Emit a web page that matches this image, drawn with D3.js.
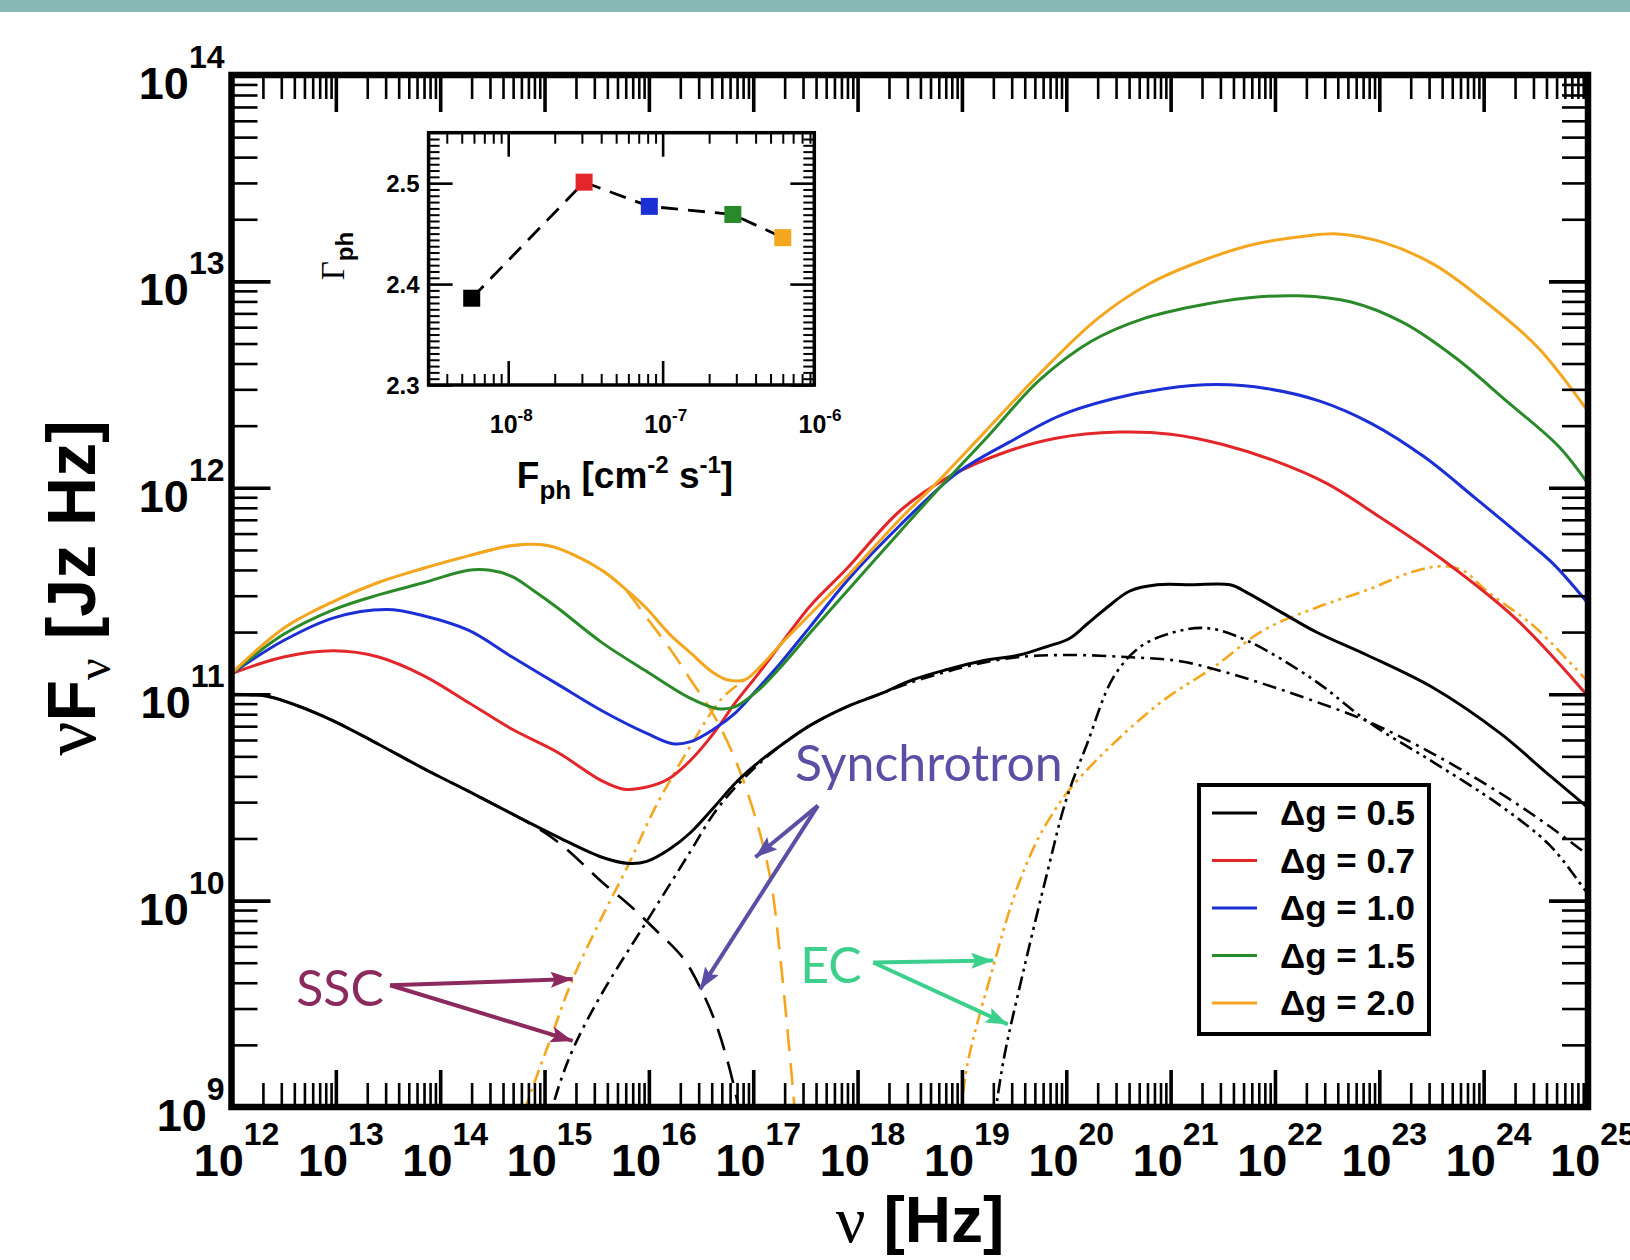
<!DOCTYPE html>
<html>
<head>
<meta charset="utf-8">
<script src="https://cdn.jsdelivr.net/npm/d3@7"></script>
<style>
    body { margin: 0; background: #ffffff; }
    svg { display: block; }
</style>
</head>
<body>
<div id="chart"></div>
<script>
// Spectra are kept as [log10(nu / Hz), log10(nuFnu)] pairs.

// total emission, one per delta-g
var totalDg05 = [[12.0,11.0],[12.34,10.99],[12.6,10.95],[12.98,10.87],[13.4,10.76],[13.84,10.64],[14.27,10.53],[14.69,10.42],[15.12,10.31],[15.55,10.21],[15.81,10.18],[15.98,10.19],[16.2,10.25],[16.4,10.33],[16.62,10.45],[16.83,10.57],[17.05,10.67],[17.26,10.75],[17.55,10.85],[17.9,10.94],[18.21,11.0],[18.53,11.07],[18.86,11.12],[19.18,11.16],[19.55,11.19],[19.81,11.23],[20.03,11.27],[20.2,11.34],[20.39,11.42],[20.61,11.5],[20.87,11.53],[21.2,11.53],[21.57,11.53],[21.74,11.49],[22.05,11.4],[22.4,11.3],[22.88,11.19],[23.52,11.03],[24.16,10.81],[24.6,10.62],[25.0,10.45]];
var totalDg07 = [[12.0,11.1],[12.5,11.18],[12.98,11.21],[13.41,11.18],[13.84,11.09],[14.27,10.96],[14.69,10.83],[15.12,10.72],[15.55,10.58],[15.76,10.54],[15.98,10.55],[16.19,10.59],[16.4,10.68],[16.62,10.81],[16.83,10.96],[17.05,11.1],[17.26,11.24],[17.55,11.43],[17.9,11.61],[18.41,11.89],[18.9,12.06],[19.4,12.17],[19.9,12.24],[20.5,12.27],[21.0,12.26],[21.5,12.21],[22.0,12.13],[22.5,12.02],[23.0,11.86],[23.61,11.65],[24.32,11.36],[25.0,10.99]];
var totalDg10 = [[12.0,11.1],[12.5,11.26],[12.98,11.37],[13.49,11.41],[13.84,11.38],[14.27,11.31],[14.69,11.18],[15.12,11.05],[15.55,10.92],[15.98,10.81],[16.23,10.76],[16.4,10.77],[16.62,10.83],[16.83,10.91],[17.05,11.03],[17.26,11.15],[17.55,11.33],[17.9,11.55],[18.41,11.82],[18.95,12.07],[19.45,12.22],[19.94,12.35],[20.44,12.43],[20.94,12.48],[21.44,12.5],[21.93,12.48],[22.43,12.42],[22.93,12.31],[23.43,12.15],[23.92,11.95],[24.42,11.74],[24.67,11.63],[25.0,11.44]];
var totalDg15 = [[12.0,11.1],[12.5,11.29],[12.98,11.41],[13.4,11.48],[13.84,11.54],[14.27,11.6],[14.48,11.6],[14.69,11.57],[14.9,11.5],[15.12,11.42],[15.55,11.25],[15.98,11.11],[16.4,10.98],[16.66,10.93],[16.83,10.94],[17.05,11.02],[17.26,11.13],[17.55,11.3],[17.9,11.5],[18.41,11.79],[18.75,11.98],[19.25,12.25],[19.74,12.52],[20.24,12.71],[20.74,12.82],[21.23,12.88],[21.73,12.92],[22.23,12.93],[22.73,12.9],[23.23,12.8],[23.73,12.63],[24.22,12.42],[24.72,12.2],[25.0,12.02]];
var totalDg20 = [[12.0,11.1],[12.5,11.32],[12.98,11.45],[13.4,11.54],[13.84,11.61],[14.27,11.67],[14.69,11.72],[15.03,11.72],[15.3,11.67],[15.55,11.6],[15.75,11.52],[15.97,11.42],[16.2,11.29],[16.4,11.2],[16.6,11.11],[16.75,11.07],[16.92,11.07],[17.08,11.14],[17.26,11.24],[17.55,11.39],[17.9,11.57],[18.41,11.85],[18.75,12.02],[19.2,12.26],[19.74,12.55],[20.3,12.82],[20.8,12.99],[21.3,13.1],[21.8,13.18],[22.3,13.22],[22.6,13.23],[23.03,13.19],[23.53,13.08],[24.02,12.9],[24.52,12.68],[25.0,12.37]];

// components for delta-g = 0.5 (black) and 2.0 (orange)
var syncDg05 = [[12.0,11.0],[12.34,10.99],[12.6,10.95],[12.98,10.87],[13.4,10.76],[13.84,10.64],[14.27,10.53],[14.69,10.42],[15.0,10.33],[15.21,10.25],[15.55,10.09],[15.81,9.98],[16.06,9.86],[16.33,9.72],[16.5,9.57],[16.63,9.42],[16.75,9.23],[16.86,9.0],[16.92,8.85]];
var sscDg05 = [[15.02,8.9],[15.15,9.12],[15.29,9.3],[15.55,9.55],[15.98,9.9],[16.4,10.24],[16.62,10.42],[16.83,10.55],[17.05,10.66],[17.26,10.75],[17.55,10.85],[17.9,10.94],[18.21,11.0],[18.53,11.06],[18.86,11.11],[19.18,11.15],[19.55,11.18],[20.0,11.19],[20.58,11.18],[21.09,11.16],[21.5,11.11],[21.89,11.05],[22.3,10.98],[22.88,10.87],[23.52,10.71],[24.16,10.52],[24.63,10.36],[25.0,10.22]];
var ecDg05 = [[19.3,8.9],[19.4,9.23],[19.59,9.66],[19.81,10.12],[20.0,10.49],[20.2,10.76],[20.45,11.08],[20.71,11.23],[21.03,11.3],[21.35,11.32],[21.73,11.26],[22.37,11.07],[22.91,10.86],[23.52,10.67],[24.16,10.46],[24.63,10.27],[24.9,10.1],[25.0,10.03]];
var syncDg20 = [[12.0,11.1],[12.5,11.32],[12.98,11.45],[13.4,11.54],[13.84,11.61],[14.27,11.67],[14.69,11.72],[15.03,11.72],[15.3,11.67],[15.55,11.6],[15.75,11.52],[15.98,11.37],[16.23,11.2],[16.4,11.07],[16.62,10.9],[16.83,10.68],[17.04,10.37],[17.17,10.09],[17.26,9.72],[17.34,9.31],[17.39,9.03],[17.42,8.85]];
var sscDg20 = [[14.72,8.85],[14.84,9.03],[15.05,9.32],[15.27,9.62],[15.55,9.92],[15.81,10.18],[16.06,10.45],[16.4,10.75],[16.7,10.98],[16.92,11.07]];
var ecDg20 = [[18.98,8.9],[19.05,9.2],[19.3,9.68],[19.5,10.02],[19.7,10.27],[19.88,10.43],[20.05,10.55],[20.45,10.76],[20.93,10.97],[21.41,11.13],[21.89,11.31],[22.4,11.42],[22.91,11.51],[23.3,11.59],[23.6,11.62],[23.8,11.6],[24.03,11.5],[24.48,11.33],[24.89,11.12],[25.0,11.06]];

var legendLabels = ["\u0394g = 0.5", "\u0394g = 0.7", "\u0394g = 1.0", "\u0394g = 1.5", "\u0394g = 2.0"];
var seriesColours = ["#000000", "#e3262a", "#1c2fd5", "#2a8a2a", "#f4a61f"];

// axis decades (exponents)
var xDecades = d3.range(12, 26);
var yDecades = d3.range(9, 15);

// inset: photon index against photon flux
var insetFlux = [5.8e-9, 3.1e-8, 8.2e-8, 2.85e-7, 6.0e-7];
var insetGamma = [2.386, 2.501, 2.477, 2.469, 2.446];
var insetYTicks = [2.3, 2.4, 2.5];
var insetXDecades = [-8, -7, -6];

// annotation labels and arrow tips, in data space
var annotations = [
    {text: "Synchrotron", colour: "#5a4fa4", label: [17.40, 10.58], from: [17.62, 10.46], to: [[17.02, 10.21], [16.49, 9.57]]},
    {text: "SSC", colour: "#8c2a5e", label: [12.62, 9.49], from: [13.52, 9.59], to: [[15.27, 9.62], [15.27, 9.32]]},
    {text: "EC", colour: "#3dd08d", label: [17.45, 9.60], from: [18.15, 9.70], to: [[19.30, 9.71], [19.44, 9.40]]}
];

var sans = "'Liberation Sans', Arial, Helvetica, sans-serif";
var serif = "'Liberation Serif', 'DejaVu Serif', serif";
var gill = "Lato, 'Open Sans', sans-serif";

var margin = {top: 75, right: 42, bottom: 153, left: 231.5};
var width = 1630 - margin.left - margin.right;
var height = 1260 - margin.top - margin.bottom;

var svg = d3.select("#chart").append("svg")
    .attr("width", 1630)
    .attr("height", 1260);

// slide band on top
svg.append("rect").attr("width", 1630).attr("height", 12).attr("fill", "#88b8b5");

var xScale = d3.scaleLog().domain([1e12, 1e25]).range([0, width]);
var yScale = d3.scaleLog().domain([1e9, 1e14]).range([height, 0]);

var plot = svg.append("g")
    .attr("transform", "translate(" + margin.left + "," + margin.top + ")");

plot.append("clipPath").attr("id", "plotClip")
    .append("rect").attr("width", width).attr("height", height);

var line = d3.line()
    .x(function (d) { return xScale(Math.pow(10, d[0])); })
    .y(function (d) { return yScale(Math.pow(10, d[1])); })
    .curve(d3.curveCatmullRom.alpha(0.5));

var curves = plot.append("g").attr("clip-path", "url(#plotClip)");

// emission components first, totals drawn over them
var components = [
    {data: sscDg20, colour: seriesColours[4], dash: "14,6,3,6"},
    {data: syncDg20, colour: seriesColours[4], dash: "22,12"},
    {data: ecDg20, colour: seriesColours[4], dash: "14,5,3,5,3,5"},
    {data: syncDg05, colour: "#000", dash: "22,12"},
    {data: sscDg05, colour: "#000", dash: "14,6,3,6"},
    {data: ecDg05, colour: "#000", dash: "14,5,3,5,3,5"}
];
components.forEach(function (c) {
    curves.append("path")
        .datum(c.data)
        .attr("d", line)
        .attr("fill", "none")
        .attr("stroke", c.colour)
        .attr("stroke-width", 2.6)
        .attr("stroke-dasharray", c.dash);
});

[totalDg05, totalDg07, totalDg10, totalDg15, totalDg20].forEach(function (s, i) {
    curves.append("path")
        .datum(s)
        .attr("d", line)
        .attr("fill", "none")
        .attr("stroke", seriesColours[i])
        .attr("stroke-width", 3);
});

/**
 * Ticks on all four sides, pointing inwards.
 */
function drawTicks(g, axisFn, scale, values, size, strokeWidth, transform) {
    var a = g.append("g")
        .attr("transform", transform)
        .call(axisFn(scale).tickValues(values).tickSize(-size).tickFormat(""));
    a.select(".domain").remove();
    a.selectAll("text").remove();
    a.selectAll("line").attr("stroke", "#000").attr("stroke-width", strokeWidth);
}

function minorValues(decades, domain) {
    var out = [];
    decades.forEach(function (k) {
        d3.range(2, 10).forEach(function (m) {
            var v = m * Math.pow(10, k);
            if (v > domain[0] && v < domain[1]) out.push(v);
        });
    });
    return out;
}

var xMajor = xDecades.map(function (k) { return Math.pow(10, k); });
var yMajor = yDecades.map(function (k) { return Math.pow(10, k); });
var xMinor = minorValues(xDecades, xScale.domain());
var yMinor = minorValues(yDecades, yScale.domain());

drawTicks(plot, d3.axisBottom, xScale, xMinor, 24, 2.6, "translate(0," + height + ")");
drawTicks(plot, d3.axisBottom, xScale, xMajor, 37, 3.6, "translate(0," + height + ")");
drawTicks(plot, d3.axisTop, xScale, xMinor, 24, 2.6, "translate(0,0)");
drawTicks(plot, d3.axisTop, xScale, xMajor, 37, 3.6, "translate(0,0)");
drawTicks(plot, d3.axisLeft, yScale, yMinor, 26, 2.6, "translate(0,0)");
drawTicks(plot, d3.axisLeft, yScale, yMajor, 39, 3.6, "translate(0,0)");
drawTicks(plot, d3.axisRight, yScale, yMinor, 26, 2.6, "translate(" + width + ",0)");
drawTicks(plot, d3.axisRight, yScale, yMajor, 39, 3.6, "translate(" + width + ",0)");

// thick frame
plot.append("rect")
    .attr("width", width).attr("height", height)
    .attr("fill", "none").attr("stroke", "#000").attr("stroke-width", 6.5);

// power-of-ten tick labels with raised exponent
function powerLabel(g, x, y, anchor, exponent, size, supSize, raise) {
    var t = g.append("text")
        .attr("x", x).attr("y", y)
        .attr("text-anchor", anchor)
        .attr("font-family", sans)
        .attr("font-weight", "bold")
        .attr("font-size", size);
    t.append("tspan").text("10");
    t.append("tspan").attr("font-size", supSize).attr("dy", -raise).text(exponent);
}

xDecades.forEach(function (k) {
    powerLabel(plot, xScale(Math.pow(10, k)) + 5, height + 69, "middle", k, 45, 32, 31);
});
yDecades.forEach(function (k) {
    powerLabel(plot, -7, yScale(Math.pow(10, k)) + 24, "end", k, 45, 32, 31);
});

// axis titles
var yTitle = svg.append("text")
    .attr("transform", "translate(95,588) rotate(-90)")
    .attr("text-anchor", "middle")
    .attr("font-family", sans)
    .attr("font-weight", "bold")
    .attr("font-size", 68);
yTitle.append("tspan").attr("font-family", serif).attr("font-weight", "normal").attr("font-size", 76).text("\u03bd");
yTitle.append("tspan").text("F");
yTitle.append("tspan").attr("font-family", serif).attr("font-weight", "normal").attr("font-size", 48).attr("dy", 15).text("\u03bd");
yTitle.append("tspan").attr("dy", -15).text("  [Jz Hz]");

var xTitle = svg.append("text")
    .attr("x", 920).attr("y", 1242)
    .attr("text-anchor", "middle")
    .attr("font-family", sans)
    .attr("font-weight", "bold")
    .attr("font-size", 64);
xTitle.append("tspan").attr("font-family", serif).attr("font-weight", "normal").attr("font-size", 66).text("\u03bd");
xTitle.append("tspan").text(" [Hz]");

/**
 * Annotations with arrows.
 */
var defs = svg.append("defs");
annotations.forEach(function (a, i) {
    defs.append("marker")
        .attr("id", "arrow" + i)
        .attr("markerUnits", "userSpaceOnUse")
        .attr("markerWidth", 24).attr("markerHeight", 18)
        .attr("refX", 22).attr("refY", 8)
        .attr("orient", "auto")
        .append("path")
        .attr("d", "M0,0 L22,8 L0,16 L4,8 Z")
        .attr("fill", a.colour);

    var px = function (p) { return [xScale(Math.pow(10, p[0])), yScale(Math.pow(10, p[1]))]; };
    var start = px(a.from);
    a.to.forEach(function (t) {
        var end = px(t);
        plot.append("line")
            .attr("x1", start[0]).attr("y1", start[1])
            .attr("x2", end[0]).attr("y2", end[1])
            .attr("stroke", a.colour)
            .attr("stroke-width", 4)
            .attr("marker-end", "url(#arrow" + i + ")");
    });
    var lp = px(a.label);
    plot.append("text")
        .attr("x", lp[0]).attr("y", lp[1])
        .attr("font-family", gill)
        .attr("font-size", 50)
        .attr("fill", a.colour)
        .text(a.text);
});

/**
 * Legend box.
 */
var legend = svg.append("g").attr("transform", "translate(1199,785)");
legend.append("rect")
    .attr("width", 230).attr("height", 249)
    .attr("fill", "#fff").attr("stroke", "#000").attr("stroke-width", 4);
legendLabels.forEach(function (label, i) {
    var y = 28 + i * 47.5;
    legend.append("line")
        .attr("x1", 13).attr("x2", 58)
        .attr("y1", y).attr("y2", y)
        .attr("stroke", seriesColours[i]).attr("stroke-width", 3);
    legend.append("text")
        .attr("x", 81).attr("y", y + 12)
        .attr("font-family", sans).attr("font-weight", "bold")
        .attr("font-size", 35)
        .text(label);
});

/**
 * Inset: photon index vs photon flux.
 */
var inset = {left: 428.6, top: 132.7, width: 385.7, height: 252.3};
var insetX = d3.scaleLog().domain([3.05e-9, 9.6e-7]).range([0, inset.width]);
var insetY = d3.scaleLinear().domain([2.3, 2.55]).range([inset.height, 0]);

var ins = svg.append("g").attr("transform", "translate(" + inset.left + "," + inset.top + ")");
ins.append("rect").attr("width", inset.width).attr("height", inset.height).attr("fill", "#fff");

var iMajorX = insetXDecades.map(function (k) { return Math.pow(10, k); })
    .filter(function (v) { return v > insetX.domain()[0] && v < insetX.domain()[1]; });
var iMinorX = minorValues([-9, -8, -7], insetX.domain());
var iMinorY = d3.range(2.3, 2.55, 0.00625).filter(function (v) {
    return insetYTicks.every(function (t) { return Math.abs(t - v) > 1e-6; });
});

drawTicks(ins, d3.axisBottom, insetX, iMinorX, 11, 2, "translate(0," + inset.height + ")");
drawTicks(ins, d3.axisBottom, insetX, iMajorX, 24, 2.6, "translate(0," + inset.height + ")");
drawTicks(ins, d3.axisTop, insetX, iMinorX, 11, 2, "translate(0,0)");
drawTicks(ins, d3.axisTop, insetX, iMajorX, 24, 2.6, "translate(0,0)");
drawTicks(ins, d3.axisLeft, insetY, iMinorY, 11, 2, "translate(0,0)");
drawTicks(ins, d3.axisLeft, insetY, insetYTicks, 24, 2.6, "translate(0,0)");
drawTicks(ins, d3.axisRight, insetY, iMinorY, 11, 2, "translate(" + inset.width + ",0)");
drawTicks(ins, d3.axisRight, insetY, insetYTicks, 24, 2.6, "translate(" + inset.width + ",0)");

ins.append("rect")
    .attr("width", inset.width).attr("height", inset.height)
    .attr("fill", "none").attr("stroke", "#000").attr("stroke-width", 3.5);

var insetPoints = insetFlux.map(function (f, i) { return {f: f, g: insetGamma[i], c: seriesColours[i]}; });

ins.append("path")
    .datum(insetPoints)
    .attr("d", d3.line().x(function (d) { return insetX(d.f); }).y(function (d) { return insetY(d.g); }))
    .attr("fill", "none").attr("stroke", "#000")
    .attr("stroke-width", 2.8).attr("stroke-dasharray", "17,10");

ins.selectAll("rect.pt")
    .data(insetPoints)
    .enter()
    .append("rect")
    .attr("class", "pt")
    .attr("x", function (d) { return insetX(d.f) - 8.5; })
    .attr("y", function (d) { return insetY(d.g) - 8.5; })
    .attr("width", 17).attr("height", 17)
    .attr("fill", function (d) { return d.c; });

insetYTicks.forEach(function (v) {
    ins.append("text")
        .attr("x", -9).attr("y", insetY(v) + 9)
        .attr("text-anchor", "end")
        .attr("font-family", sans).attr("font-weight", "bold")
        .attr("font-size", 24)
        .text(v.toFixed(1));
});
insetXDecades.forEach(function (k) {
    powerLabel(ins, insetX(Math.pow(10, k)) + 3, inset.height + 48, "middle", "-" + Math.abs(k), 25, 17, 12);
});

// inset axis titles
var iyTitle = svg.append("text")
    .attr("transform", "translate(344,256) rotate(-90)")
    .attr("text-anchor", "middle")
    .attr("font-size", 33);
iyTitle.append("tspan").attr("font-family", serif).text("\u0393");
iyTitle.append("tspan").attr("font-family", sans).attr("font-weight", "bold")
    .attr("font-size", 24).attr("dy", 9).text("ph");

var ixTitle = svg.append("text")
    .attr("x", 625).attr("y", 488)
    .attr("text-anchor", "middle")
    .attr("font-family", sans).attr("font-weight", "bold")
    .attr("font-size", 37);
ixTitle.append("tspan").text("F");
ixTitle.append("tspan").attr("font-size", 26).attr("dy", 11).text("ph");
ixTitle.append("tspan").attr("dy", -11).text(" [cm");
ixTitle.append("tspan").attr("font-size", 24).attr("dy", -15).text("-2");
ixTitle.append("tspan").attr("dy", 15).text(" s");
ixTitle.append("tspan").attr("font-size", 24).attr("dy", -15).text("-1");
ixTitle.append("tspan").attr("dy", 15).text("]");
</script>
</body>
</html>
